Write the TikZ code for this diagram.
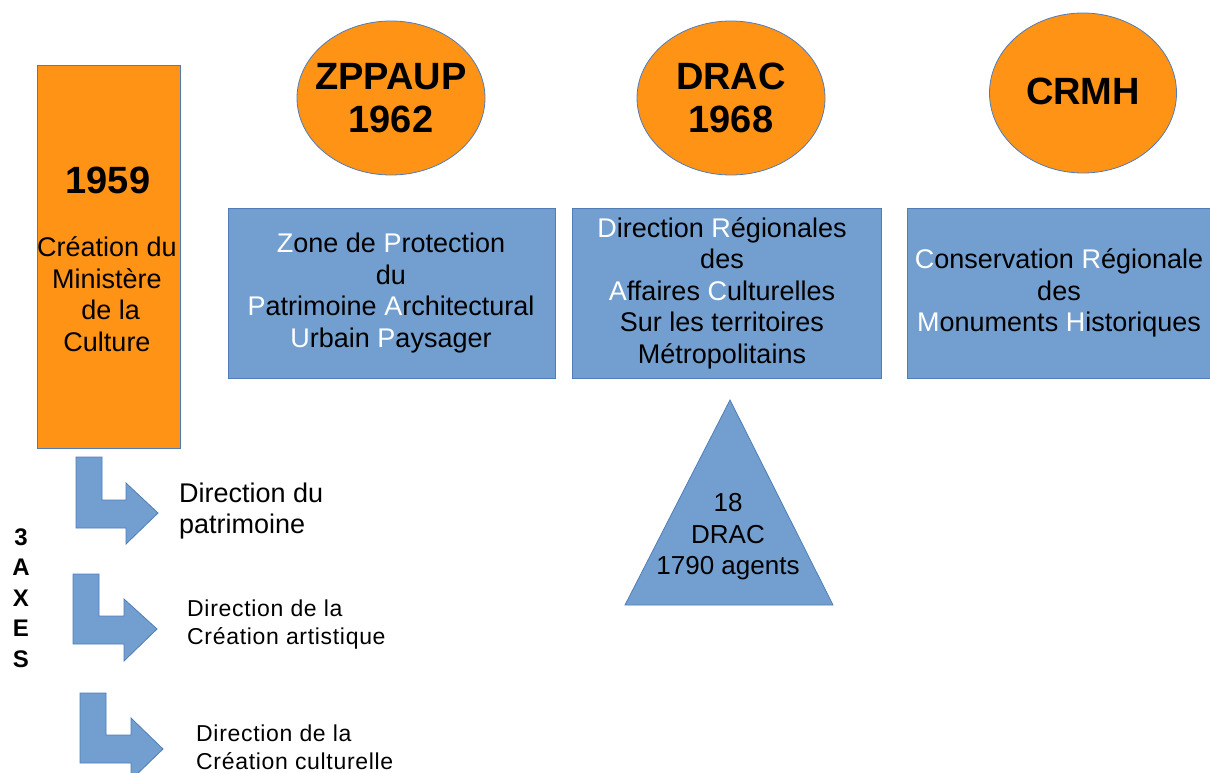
\documentclass[tikz,border=0pt]{standalone}
\usepackage{fontspec}
\setmainfont{Liberation Sans}
\usetikzlibrary{shapes.geometric}
\definecolor{orgfill}{RGB}{255,147,22}
\definecolor{bluefill}{RGB}{114,159,207}
\definecolor{blueedge}{RGB}{80,125,185}
\newcommand{\hl}[1]{{\color{white}#1}}
\tikzset{
  orgbox/.style={draw=blueedge, line width=0.8pt, fill=orgfill, inner sep=0pt},
  orgell/.style={ellipse, draw=blueedge, line width=0.8pt, fill=orgfill, inner sep=0pt},
  bluebox/.style={draw=blueedge, line width=0.8pt, fill=bluefill, inner sep=0pt},
  bigtxt/.style={font=\fontsize{38}{43}\selectfont\bfseries, align=center, inner sep=0pt},
  boxtxt/.style={font=\fontsize{27}{31.5}\selectfont, align=center, inner sep=0pt},
  smalltxt/.style={font=\fontsize{23}{28}\selectfont\addfontfeature{LetterSpace=3}, align=left, inner sep=0pt, anchor=west},
  bentarrow/.style={draw=blueedge, line width=0.8pt, fill=bluefill, line join=miter},
}
\begin{document}
\begin{tikzpicture}[x=1pt,y=-1pt]
\clip (0,0) rectangle (1210,773);
\fill[white] (0,0) rectangle (1210,773);

% 1959 rectangle
\node[orgbox, minimum width=143pt, minimum height=383pt] (min) at (108.5,256.5) {};
\node[bigtxt] (y1959) at (108,180) {1959};
\node[boxtxt] (mintxt) at (107,294) {Création du\\Ministère\\\ de la\\Culture\ };

% ellipses
\node[orgell, minimum width=188pt, minimum height=154pt] (ezpp) at (391,98) {};
\node[bigtxt] (tzpp) at (ezpp.center) {ZPPAUP\\1962};
\node[orgell, minimum width=188pt, minimum height=154pt] (edrac) at (731,98) {};
\node[bigtxt] (tdrac) at (edrac.center) {DRAC\\1968};
\node[orgell, minimum width=187pt, minimum height=160pt] (ecrmh) at (1083,93) {};
\node[bigtxt] (tcrmh) at (1083,91) {CRMH};

% blue boxes
\node[bluebox, minimum width=327pt, minimum height=170pt] (bzpp) at (391.5,293) {};
\node[boxtxt] (tbzpp) at (391,293) {\hl{Z}one de \hl{P}rotection\\du\\\hl{P}atrimoine \hl{A}rchitectural\\\hl{U}rbain \hl{P}aysager};
\node[bluebox, minimum width=309pt, minimum height=170pt] (bdrac) at (726.5,293) {};
\node[boxtxt] (tbdrac) at (722,293) {\hl{D}irection \hl{R}égionales\\des\\\hl{A}ffaires \hl{C}ulturelles\\Sur les territoires\\Métropolitains};
\node[bluebox, minimum width=310pt, minimum height=170pt] (bcrmh) at (1062,293) {};
\node[boxtxt] (tbcrmh) at (1059,293) {\hl{C}onservation \hl{R}égionale\\des\\\hl{M}onuments \hl{H}istoriques};

% triangle
\draw[bluebox] (730,400) coordinate (tapex) -- (833,605) coordinate (tright) -- (625,605) coordinate (tleft) -- cycle;
\node[boxtxt, font=\fontsize{26}{31.5}\selectfont] (ttri) at (728,537) {18\\DRAC\\1790 agents};

% 3 AXES
\node[font=\fontsize{24}{30.5}\selectfont\bfseries, align=center, inner sep=0pt] (axes) at (21,598) {3\\A\\X\\E\\S};

% bent arrows
\draw[bentarrow] (76,457) -- (102,457) -- (102,500) -- (126,500) -- (126,483) -- (158,513) -- (126,544) -- (126,528) -- (76,528) -- cycle;
\draw[bentarrow] (73,574) -- (99,574) -- (99,616) -- (124,616) -- (124,599) -- (157,629) -- (124,661) -- (124,644) -- (73,644) -- cycle;
\draw[bentarrow] (80,693) -- (106,693) -- (106,735) -- (131,735) -- (131,718) -- (163,749) -- (131,780) -- (131,763) -- (80,763) -- cycle;

% arrow labels
\node[font=\fontsize{27}{31}\selectfont, align=left, inner sep=0pt, anchor=west] (lpat) at (179,511) {Direction du\\patrimoine};
\node[smalltxt] (lart) at (187,625) {Direction de la\\Création artistique};
\node[smalltxt] (lcul) at (196,747) {Direction de la\\Création culturelle};
\end{tikzpicture}
\end{document}
